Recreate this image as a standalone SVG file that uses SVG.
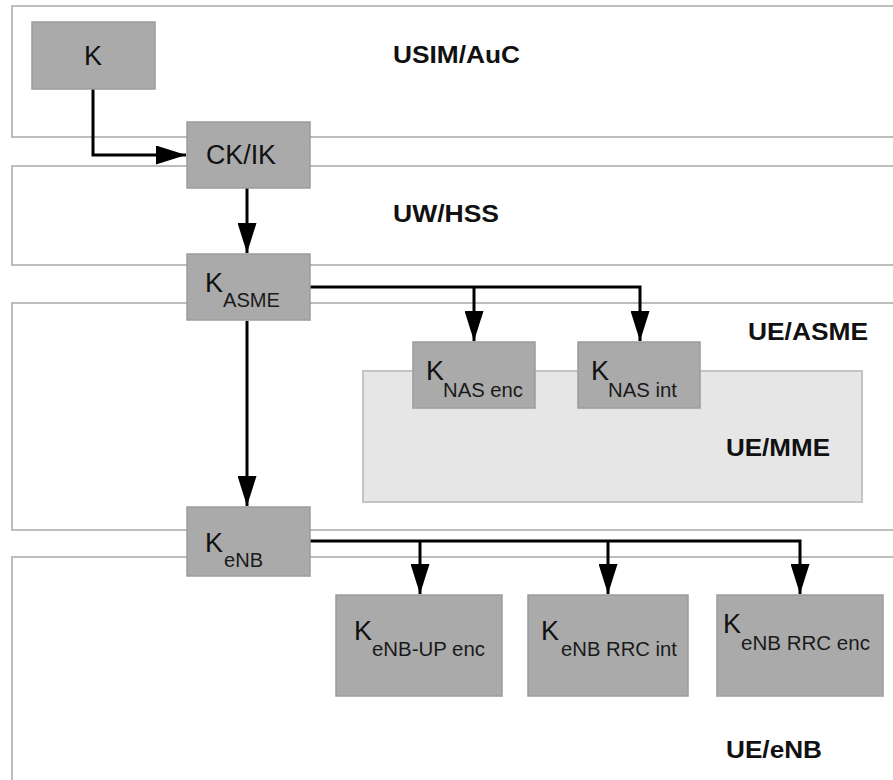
<svg xmlns="http://www.w3.org/2000/svg" width="893" height="780" viewBox="0 0 893 780">
<style>
.region{fill:none;stroke:#bdbdbd;stroke-width:2}
.inner{fill:#e6e6e6;stroke:#c4c4c4;stroke-width:2}
.node{fill:#aaaaaa;stroke:#9c9c9c;stroke-width:1.5}
.lbl{font-family:"Liberation Sans",Arial,sans-serif;font-weight:bold;font-size:23px;fill:#111}
.main{font-family:"Liberation Sans",Arial,sans-serif;font-size:27px;fill:#111}
.sub{font-family:"Liberation Sans",Arial,sans-serif;font-size:20px;fill:#1a1a1a}
.conn{fill:none;stroke:#000;stroke-width:3}
</style>
<defs>
<marker id="arr" viewBox="0 0 30 19" refX="30" refY="9.5" markerWidth="30" markerHeight="19" markerUnits="userSpaceOnUse" orient="auto">
<path d="M0 0 L30 9.5 L0 19 Z" fill="#000"/>
</marker>
</defs>
<rect fill="#fff" x="0" y="0" width="893" height="780"/>
<g id="regions">
<rect class="region" x="12" y="6" width="900" height="131"/>
<rect class="region" x="12" y="166" width="900" height="99"/>
<rect class="region" x="12" y="303" width="900" height="227"/>
<rect class="region" x="12" y="557" width="900" height="260"/>
<rect class="inner" x="363" y="371" width="499" height="131"/>
<text class="lbl" x="393" y="63" textLength="127" lengthAdjust="spacingAndGlyphs">USIM/AuC</text>
<text class="lbl" x="393" y="222" textLength="106" lengthAdjust="spacingAndGlyphs">UW/HSS</text>
<text class="lbl" x="748" y="340" textLength="120" lengthAdjust="spacingAndGlyphs">UE/ASME</text>
<text class="lbl" x="726" y="456" textLength="104" lengthAdjust="spacingAndGlyphs">UE/MME</text>
<text class="lbl" x="726" y="758" textLength="96" lengthAdjust="spacingAndGlyphs">UE/eNB</text>
</g>
<g id="connectors">
<path class="conn" d="M93 89 V155 H186" marker-end="url(#arr)"/>
<path class="conn" d="M247 188 V253" marker-end="url(#arr)"/>
<path class="conn" d="M310 287 H640 V341" marker-end="url(#arr)"/>
<path class="conn" d="M474 287 V341" marker-end="url(#arr)"/>
<path class="conn" d="M247 321 V506" marker-end="url(#arr)"/>
<path class="conn" d="M310 541 H800 V594" marker-end="url(#arr)"/>
<path class="conn" d="M420 541 V594" marker-end="url(#arr)"/>
<path class="conn" d="M608 541 V594" marker-end="url(#arr)"/>
</g>
<g id="node-k">
<rect class="node" x="32" y="22" width="123" height="67"/>
<text class="main" x="93" y="65" text-anchor="middle">K</text>
</g>
<g id="node-ckik">
<rect class="node" x="187" y="122" width="123" height="66"/>
<text class="main" x="206" y="164" textLength="70" lengthAdjust="spacingAndGlyphs">CK/IK</text>
</g>
<g id="node-kasme">
<rect class="node" x="187" y="254" width="123" height="66"/>
<text class="main" x="205" y="292">K</text>
<text class="sub" x="223" y="307" textLength="57" lengthAdjust="spacingAndGlyphs">ASME</text>
</g>
<g id="node-knasenc">
<rect class="node" x="413" y="342" width="122" height="66"/>
<text class="main" x="426" y="380">K</text>
<text class="sub" x="443" y="397" textLength="80" lengthAdjust="spacingAndGlyphs">NAS enc</text>
</g>
<g id="node-knasint">
<rect class="node" x="578" y="342" width="122" height="66"/>
<text class="main" x="591" y="380">K</text>
<text class="sub" x="608" y="397" textLength="69" lengthAdjust="spacingAndGlyphs">NAS int</text>
</g>
<g id="node-kenb">
<rect class="node" x="187" y="507" width="123" height="69"/>
<text class="main" x="205" y="552">K</text>
<text class="sub" x="224" y="567" textLength="39" lengthAdjust="spacingAndGlyphs">eNB</text>
</g>
<g id="node-kenb-up-enc">
<rect class="node" x="336" y="595" width="166" height="101"/>
<text class="main" x="354" y="640">K</text>
<text class="sub" x="372" y="656" textLength="113" lengthAdjust="spacingAndGlyphs">eNB-UP enc</text>
</g>
<g id="node-kenb-rrc-int">
<rect class="node" x="528" y="595" width="160" height="101"/>
<text class="main" x="541" y="640">K</text>
<text class="sub" x="561" y="656" textLength="116" lengthAdjust="spacingAndGlyphs">eNB RRC int</text>
</g>
<g id="node-kenb-rrc-enc">
<rect class="node" x="717" y="595" width="166" height="101"/>
<text class="main" x="723" y="633">K</text>
<text class="sub" x="741" y="650" textLength="129" lengthAdjust="spacingAndGlyphs">eNB RRC enc</text>
</g>
</svg>
